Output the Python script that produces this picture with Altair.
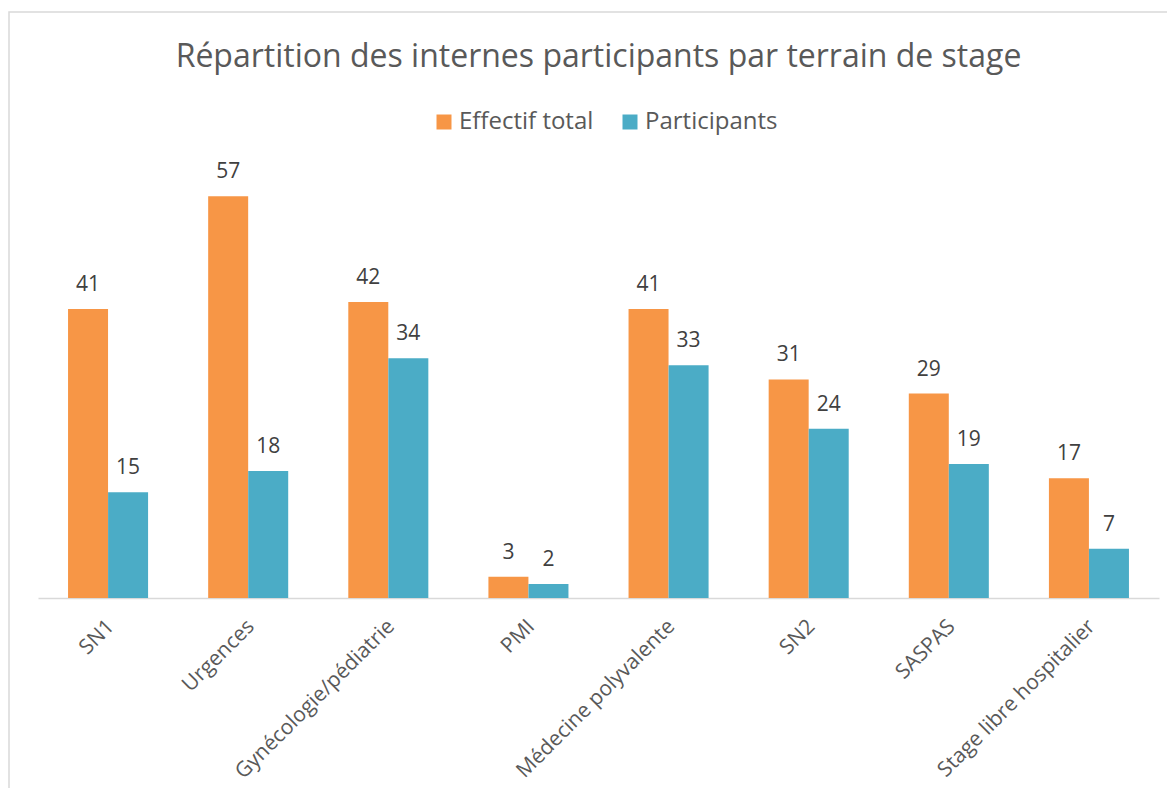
import altair as alt
import pandas as pd

categories = ["SN1", "Urgences", "Gynécologie/pédiatrie", "PMI", "Médecine polyvalente",
              "SN2", "SASPAS", "Stage libre hospitalier"]
effectif_total = [41, 57, 42, 3, 41, 31, 29, 17]
participants = [15, 18, 34, 2, 33, 24, 19, 7]
series_names = ["Effectif total", "Participants"]
series_colors = ["#F79646", "#4BACC6"]

rows = []
for c, a, b in zip(categories, effectif_total, participants):
    rows.append({"cat": c, "serie": series_names[0], "val": a})
    rows.append({"cat": c, "serie": series_names[1], "val": b})
df = pd.DataFrame(rows)

FONT = "Open Sans"
W, H = 1121, 423

x = alt.X("cat:N", sort=categories, title=None,
          scale=alt.Scale(paddingInner=0.4286, paddingOuter=0.2143),
          axis=alt.Axis(labelAngle=-45, labelFontSize=21, labelColor="#595959",
                        labelFont=FONT, ticks=False, domainColor="#D9D9D9",
                        domainWidth=1.5, labelPadding=25, labelOffset=3,
                        labelAlign="right", labelBaseline="middle", labelLimit=400))
y = alt.Y("val:Q", scale=alt.Scale(domain=[0, 60]), axis=None)
xo = alt.XOffset("serie:N", sort=series_names,
                 scale=alt.Scale(paddingInner=0, paddingOuter=0))

base = alt.Chart(df).encode(x=x, xOffset=xo, y=y)

bars = base.mark_bar(size=40).encode(
    color=alt.Color("serie:N", sort=series_names,
                    scale=alt.Scale(domain=series_names, range=series_colors),
                    legend=alt.Legend(title=None, orient="none", direction="horizontal",
                                      legendX=394, legendY=-65, padding=0,
                                      symbolType="square",
                                      symbolSize=225, symbolStrokeWidth=0,
                                      labelFontSize=24, labelFont=FONT,
                                      labelColor="#595959", columnPadding=24,
                                      labelOffset=3))
)

labels = base.mark_text(dy=-18, baseline="alphabetic", fontSize=21, font=FONT,
                        color="#404040").encode(text="val:Q")

border = alt.Chart(pd.DataFrame({"a": [0]})).mark_rect(
    fill="transparent", stroke="#D9D9D9", strokeWidth=1.5).encode(
    x=alt.value(-29), x2=alt.value(W + 40), y=alt.value(-163), y2=alt.value(H + 220))

chart = alt.layer(border, bars, labels).properties(
    width=W, height=H,
    title=alt.TitleParams("Répartition des internes participants par terrain de stage",
                          font=FONT, fontSize=32, fontWeight="normal", color="#595959",
                          anchor="middle", offset=0, dy=63),
    padding={"left": 30, "top": 167, "right": 8, "bottom": 190},
    autosize=alt.AutoSizeParams(type="none")
).configure(background="white").configure_view(stroke=None)

chart.save("out.html", embed_options={"renderer": "svg", "actions": False})
